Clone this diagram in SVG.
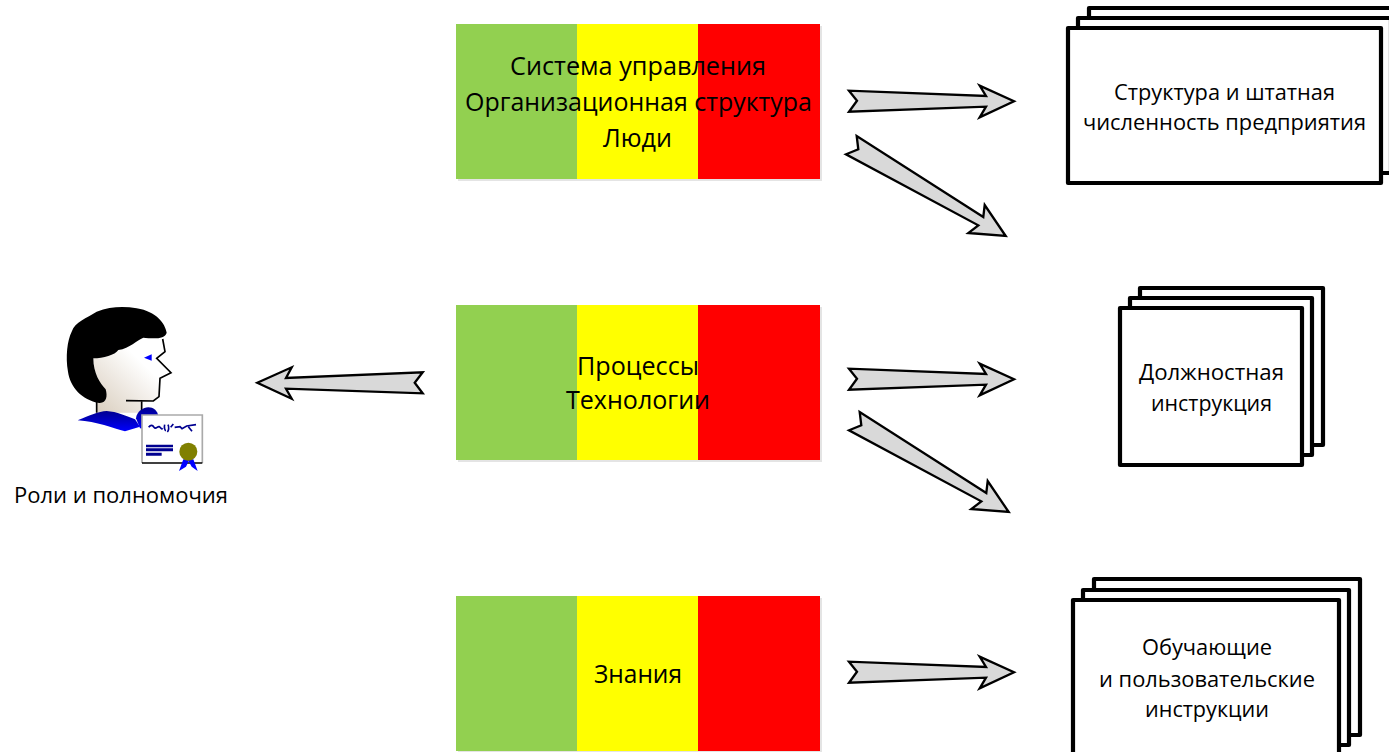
<svg xmlns="http://www.w3.org/2000/svg" width="1389" height="752" viewBox="0 0 1389 752">
<style>
text{font-family:"Open Sans","Noto Sans","DejaVu Sans",sans-serif;fill:#000}
.big{font-size:25.5px}
.small{font-size:21.5px}
.g{fill:#92d050}.y{fill:#ffff00}.r{fill:#ff0000}.sh{fill:#e4e4e4}
.sheet{fill:#fff;stroke:#000;stroke-width:4.2;stroke-linejoin:round}
.arrow{fill:#d9d9d9;stroke:#000;stroke-width:2.3;stroke-linejoin:miter}
</style>
<defs>
<linearGradient id="face" x1="0" y1="1" x2="1" y2="0"><stop offset="0" stop-color="#d8ccbc"/><stop offset=".65" stop-color="#fff"/></linearGradient>
<linearGradient id="collar" x1="0" y1="0" x2="0" y2="1"><stop offset="0" stop-color="#000090"/><stop offset="1" stop-color="#0000ff"/></linearGradient>
<path id="ah" d="M849 90.7L857 100.7L849 111.7L986 106.7L979.7 117.3L1014 101.3L979.7 85.7L986 96Z"/>
<path id="ad" d="M856.7 136L858.3 149.3L846 154.3L978.3 225.3L968.3 233L1005.7 236L984.7 205L983.3 217Z"/>
</defs>
<g id="node-bar-1">
<rect class="sh" x="458" y="26" width="364" height="155"/>
<rect class="g" x="456" y="24" width="121" height="155"/><rect class="y" x="577" y="24" width="121" height="155"/><rect class="r" x="698" y="24" width="122" height="155"/>
<text class="big" x="510" y="75" textLength="256" lengthAdjust="spacingAndGlyphs">Система управления</text>
<text class="big" x="465" y="111" textLength="347" lengthAdjust="spacingAndGlyphs">Организационная структура</text>
<text class="big" x="603" y="147" textLength="69" lengthAdjust="spacingAndGlyphs">Люди</text>
</g>
<g id="node-bar-2">
<rect class="sh" x="458" y="307" width="364" height="155"/>
<rect class="g" x="456" y="305" width="121" height="155"/><rect class="y" x="577" y="305" width="121" height="155"/><rect class="r" x="698" y="305" width="122" height="155"/>
<text class="big" x="577" y="375" textLength="122" lengthAdjust="spacingAndGlyphs">Процессы</text>
<text class="big" x="566" y="409" textLength="144" lengthAdjust="spacingAndGlyphs">Технологии</text>
</g>
<g id="node-bar-3">
<rect class="sh" x="458" y="598" width="364" height="155"/>
<rect class="g" x="456" y="596" width="121" height="155"/><rect class="y" x="577" y="596" width="121" height="155"/><rect class="r" x="698" y="596" width="122" height="155"/>
<text class="big" x="594" y="683" textLength="88" lengthAdjust="spacingAndGlyphs">Знания</text>
</g>
<g id="node-stack-1">
<rect class="sheet" x="1089" y="8" width="313" height="155"/>
<rect class="sheet" x="1078" y="18" width="313" height="155"/>
<rect class="sheet" x="1068" y="28" width="313" height="155"/>
<text class="small" x="1114" y="100" textLength="221" lengthAdjust="spacingAndGlyphs">Структура и штатная</text>
<text class="small" x="1083" y="130" textLength="283" lengthAdjust="spacingAndGlyphs">численность предприятия</text>
</g>
<g id="node-stack-2">
<rect class="sheet" x="1140" y="288" width="183" height="157"/>
<rect class="sheet" x="1130" y="298" width="182" height="157"/>
<rect class="sheet" x="1120" y="308" width="182" height="157"/>
<text class="small" x="1139" y="380" textLength="145" lengthAdjust="spacingAndGlyphs">Должностная</text>
<text class="small" x="1151" y="411" textLength="121" lengthAdjust="spacingAndGlyphs">инструкция</text>
</g>
<g id="node-stack-3">
<rect class="sheet" x="1094" y="579" width="266" height="156"/>
<rect class="sheet" x="1083" y="590" width="266" height="155"/>
<rect class="sheet" x="1073" y="600" width="266" height="156"/>
<text class="small" x="1142" y="655" textLength="130" lengthAdjust="spacingAndGlyphs">Обучающие</text>
<text class="small" x="1099" y="687" textLength="216" lengthAdjust="spacingAndGlyphs">и пользовательские</text>
<text class="small" x="1145" y="717" textLength="124" lengthAdjust="spacingAndGlyphs">инструкции</text>
</g>
<g id="node-person">
<g transform="translate(40 290) scale(.33333)">
<path d="M170 335L170 368L305 368L305 335L340 333L357 320L360 265L393 248L350 205L375 185L368 147L310 143L235 180L160 205L170 300Z" fill="url(#face)"/>
<path d="M368 147L375 185L350 205L393 248L360 265L357 320L340 333L258 332M170 335L170 368M305 335L305 365" fill="none" stroke="#000" stroke-width="5"/>
<path d="M380 128C375 100 350 65 290 55C250 48 210 50 170 65C140 85 105 95 95 125C82 150 76 200 84 245C90 290 125 330 178 339C200 340 203 318 197 298C180 280 160 250 160 205C190 205 225 195 235 180C270 175 290 150 310 143C335 145 375 150 380 128Z" fill="#000"/>
<path d="M335 193L312 203L335 212Z" fill="#0000ff"/>
<path d="M113 391C150 375 175 365 200 363C230 365 260 378 285 388L300 410L255 424C220 415 170 395 113 391Z" fill="url(#collar)"/>
<path d="M288 385C290 365 310 352 325 352C340 352 352 362 355 378L340 420L300 415Z" fill="url(#collar)"/>
<rect x="306" y="375" width="181" height="144" fill="#fff"/>
<path d="M306 519L306 375L487 375L487 519" fill="none" stroke="#aaa" stroke-width="5"/>
<path d="M306 519L487 519" fill="none" stroke="#000" stroke-width="5"/>
<path d="M326 412C332 404 338 405 342 412C348 420 352 408 358 410C362 412 364 420 368 415M374 404C372 412 374 422 378 422M384 404C388 412 386 422 382 426M392 412L400 402M404 412L420 410L426 416L440 408L468 404M445 410L456 424" fill="none" stroke="#000090" stroke-width="5"/>
<path d="M318 464H399V472H318ZM318 475H399V484H318ZM318 488H365V497H318Z" fill="#000090"/>
<path d="M430 508L417 543L438 530L446 514L455 530L473 543L460 508Z" fill="#0000ff"/>
<circle cx="445" cy="485" r="27" fill="#808000"/>
</g>
<text class="small" x="14" y="503" textLength="214" lengthAdjust="spacingAndGlyphs">Роли и полномочия</text>
</g>
<g id="connectors">
<use href="#ah" class="arrow"/>
<use href="#ad" class="arrow"/>
<path class="arrow" d="M257.3 382.7L291.7 367.3L286 378L422.7 372.3L414.7 382.7L422.7 393.3L286 388.7L291.7 398.7Z"/>
<use href="#ah" class="arrow" y="278"/>
<use href="#ad" class="arrow" x="3" y="276"/>
<use href="#ah" class="arrow" y="571"/>
</g>
</svg>
